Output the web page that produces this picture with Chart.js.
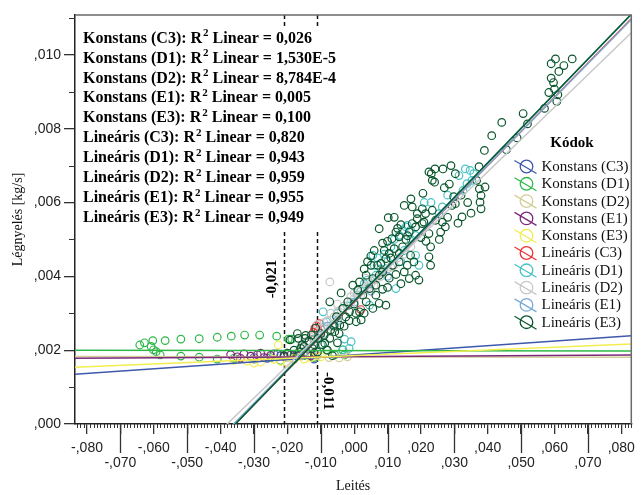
<!DOCTYPE html>
<html><head><meta charset="utf-8">
<script src="https://cdn.jsdelivr.net/npm/chart.js@4.4.0/dist/chart.umd.min.js"></script>
<style>html,body{margin:0;padding:0;background:#fff;}canvas{display:block;}</style>
</head><body>
<canvas id="c" width="641" height="495"></canvas>
<script>
// ---- categories / colours ----
const groupNames = ['Konstans (C3)','Konstans (D1)','Konstans (D2)','Konstans (E1)','Konstans (E3)',
                    'Lineáris (C3)','Lineáris (D1)','Lineáris (D2)','Lineáris (E1)','Lineáris (E3)'];
const groupColors = ['#3E58AC','#2EB848','#D3CE97','#7C287D','#F2EE50',
                     '#EF3338','#48C2C5','#C8C8C8','#7AAAD5','#0A562C'];
const r2Values = ['0,026','1,530E-5','8,784E-4','0,005','0,100','0,820','0,943','0,959','0,955','0,949'];

// ---- axis ranges & ticks ----
const xMin = -0.0836, xMax = 0.0830, yMin = 0, yMax = 0.01108;
const xTickStep = 0.01, yTickStep = 0.002, xMinorStep = 0.001, yMinorStep = 0.001;
const breakpoints = [-0.021, -0.011];
const breakpointLabels = ['-0,021', '-0,011'];

// ---- fit lines: y at xMin and at xMax ----
const fitLeftY  = [0.00135, 0.00200, 0.00183, 0.00178, 0.00154, -0.00443, -0.00448, -0.00399, -0.00437, -0.00450];
const fitRightY = [0.00239, 0.00198, 0.00181, 0.00187, 0.00217,  0.01098,  0.01110,  0.01060,  0.01096,  0.01110];

// ---- observations [Leités, Légnyelés] ----
const konstansC3 = [[-0.0300,0.00180],[-0.0260,0.00178],[-0.0220,0.00185],[-0.0180,0.00186],[-0.0140,0.00190],[-0.0120,0.00176],[-0.0240,0.00190]];
const konstansD1 = [[-0.0642,0.00214],[-0.0628,0.00220],[-0.0603,0.00226],[-0.0608,0.00210],[-0.0601,0.00201],[-0.0593,0.00196],[-0.0581,0.00187],[-0.0566,0.00226],[-0.0519,0.00230],[-0.0519,0.00184],[-0.0464,0.00231],[-0.0464,0.00181],[-0.0410,0.00235],[-0.0368,0.00238],[-0.0328,0.00241],[-0.0283,0.00241],[-0.0232,0.00238],[-0.0197,0.00230],[-0.0187,0.00230],[-0.0083,0.00201],[-0.0058,0.00187],[-0.0034,0.00201],[-0.0029,0.00187],[-0.0360,0.00178],[-0.0300,0.00176],[-0.0250,0.00180],[-0.0180,0.00176],[-0.0150,0.00185],[-0.0120,0.00180],[-0.0410,0.00176],[-0.0220,0.00172]];
const konstansD2 = [[-0.0340,0.00178],[-0.0300,0.00176],[-0.0260,0.00182],[-0.0200,0.00180],[-0.0160,0.00183],[-0.0110,0.00185],[-0.0075,0.00180],[-0.0045,0.00179],[-0.0020,0.00182]];
const konstansE1 = [[-0.0370,0.00188],[-0.0350,0.00182],[-0.0330,0.00190],[-0.0310,0.00184],[-0.0290,0.00188],[-0.0270,0.00180],[-0.0250,0.00186],[-0.0230,0.00190],[-0.0210,0.00183],[-0.0190,0.00187],[-0.0170,0.00185],[-0.0150,0.00190],[-0.0130,0.00184],[-0.0120,0.00192],[-0.0340,0.00178],[-0.0280,0.00192]];
const konstansE3 = [[-0.0360,0.00172],[-0.0320,0.00170],[-0.0280,0.00168],[-0.0240,0.00175],[-0.0220,0.00170],[-0.0227,0.00214],[-0.0180,0.00178],[-0.0150,0.00176],[-0.0130,0.00180],[-0.0100,0.00182],[-0.0300,0.00165],[-0.0200,0.00165]];
const linearisC3 = [[-0.0118,0.00259],[-0.0113,0.00266],[-0.0108,0.00252],[-0.0122,0.00248],[-0.0104,0.00272],[0.0020,0.00310]];
const linearisD1 = [[0.0333,0.00691],[0.0347,0.00687],[0.0358,0.00678],[0.0353,0.00660],[0.0338,0.00651],[0.0314,0.00673],[0.0326,0.00633],[0.0145,0.00525],[0.0159,0.00538],[0.0135,0.00511],[0.0264,0.00588],[0.0254,0.00570],[0.0155,0.00534],[0.0169,0.00525],[0.0184,0.00511],[0.0056,0.00457],[0.0065,0.00403],[0.0125,0.00367],[0.0046,0.00322],[0.0184,0.00457],[0.0194,0.00430],[-0.0034,0.00201],[-0.0009,0.00223],[-0.0029,0.00230],[-0.0093,0.00304],[-0.0083,0.00277],[0.0010,0.00350],[0.0030,0.00380],[0.0080,0.00420],[0.0110,0.00480],[-0.0050,0.00300],[-0.0120,0.00230],[-0.0020,0.00320],[0.0070,0.00450],[0.0100,0.00440],[0.0210,0.00600],[0.0230,0.00600],[-0.0015,0.00205],
 [0.0090,0.00460],[0.0120,0.00500],[0.0060,0.00430],[0.0020,0.00360],[0.0150,0.00470],[0.0170,0.00500],[0.0140,0.00440],[-0.0060,0.00270],[-0.0100,0.00215],[0.0280,0.00620],[0.0040,0.00390]];
const linearisD2 = [[-0.0073,0.00385],[-0.0120,0.00240],[-0.0100,0.00260],[-0.0080,0.00280],[-0.0060,0.00290],[-0.0040,0.00310],[-0.0020,0.00330],[0.0000,0.00340],[0.0020,0.00350],[0.0040,0.00370],[0.0060,0.00390],[0.0080,0.00400],[0.0100,0.00420],[0.0120,0.00430],[-0.0110,0.00270],[-0.0070,0.00300],[-0.0030,0.00320],[0.0010,0.00360],[0.0050,0.00380],[0.0090,0.00410],[0.0130,0.00450],[-0.0140,0.00225],[-0.0160,0.00210],[0.0150,0.00460],[0.0170,0.00480],[0.0035,0.00395],[-0.0010,0.00345],[-0.0050,0.00325],
 [-0.0090,0.00275],[-0.0050,0.00305],[-0.0010,0.00330],[0.0030,0.00365],[0.0070,0.00395],[0.0110,0.00425],[-0.0130,0.00235],[0.0000,0.00355],[0.0060,0.00375]];
const linearisE1 = [[-0.0100,0.00240],[-0.0050,0.00280],[0.0000,0.00330],[0.0050,0.00360],[0.0100,0.00400],[-0.0150,0.00195],[-0.0080,0.00265]];
const linearisE3 = [[0.0590,0.00976],[0.0603,0.00989],[0.0628,0.00971],[0.0653,0.00989],[0.0613,0.00955],[0.0590,0.00937],[0.0597,0.00925],[0.0583,0.00898],[0.0600,0.00907],[0.0610,0.00892],[0.0607,0.00874],[0.0570,0.00855],[0.0506,0.00841],[0.0519,0.00813],[0.0442,0.00817],[0.0412,0.00781],[0.0488,0.00775],[0.0390,0.00741],[0.0456,0.00743],[0.0374,0.00697],
 [0.0242,0.00691],[0.0266,0.00691],[0.0231,0.00678],[0.0241,0.00655],[0.0303,0.00678],[0.0206,0.00625],[0.0150,0.00592],[0.0298,0.00616],[0.0293,0.00592],[0.0303,0.00597],[0.0367,0.00660],[0.0375,0.00637],[0.0392,0.00642],[0.0380,0.00619],[0.0377,0.00601],[0.0380,0.00583],[0.0350,0.00571],[0.0323,0.00561],[0.0311,0.00544],
 [0.0174,0.00588],[0.0189,0.00570],[0.0204,0.00583],[0.0214,0.00570],[0.0234,0.00579],[0.0244,0.00552],[0.0264,0.00547],[0.0273,0.00534],[0.0259,0.00520],[0.0224,0.00516],[0.0184,0.00534],[0.0209,0.00547],
 [0.0224,0.00683],[0.0234,0.00660],[0.0189,0.00556],[0.0174,0.00543],[0.0204,0.00543],[0.0102,0.00559],[0.0075,0.00529],[0.0113,0.00502],[0.0135,0.00507],[0.0145,0.00480],[0.0120,0.00475],[0.0105,0.00462],[0.0135,0.00462],[0.0095,0.00448],[0.0080,0.00435],[0.0115,0.00430],[0.0135,0.00439],[0.0165,0.00394],[0.0184,0.00403],[0.0194,0.00390],[0.0229,0.00480],[0.0224,0.00453],[0.0229,0.00430],[0.0169,0.00457],[0.0179,0.00439],[0.0159,0.00430],[0.0150,0.00412],
 [-0.0039,0.00355],[-0.0073,0.00331],[-0.0004,0.00376],[0.0016,0.00385],[0.0011,0.00363],[0.0026,0.00349],[0.0036,0.00331],[0.0056,0.00313],[0.0016,0.00304],[0.0021,0.00282],[0.0006,0.00277],[-0.0014,0.00304],[-0.0019,0.00331],[-0.0034,0.00313],[-0.0053,0.00291],[-0.0043,0.00268],[-0.0058,0.00250],[-0.0073,0.00232],[-0.0088,0.00219],[-0.0108,0.00232],[-0.0128,0.00241],[-0.0147,0.00232],[-0.0167,0.00232],[-0.0192,0.00228],[0.0046,0.00367],[0.0065,0.00376],[0.0075,0.00403],[0.0056,0.00394],[0.0036,0.00403],[0.0051,0.00430],[0.0070,0.00430],[0.0085,0.00412],[0.0065,0.00349],[0.0075,0.00327],[0.0095,0.00322],
 [0.0090,0.00470],[0.0100,0.00495],[0.0125,0.00520],[0.0140,0.00540],[0.0160,0.00510],[0.0110,0.00450],[0.0125,0.00405],[0.0140,0.00380],[0.0105,0.00395],[0.0085,0.00365],[0.0100,0.00370],[0.0130,0.00530],[0.0155,0.00500],[0.0165,0.00520],
 [-0.0180,0.00200],[-0.0165,0.00195],[-0.0150,0.00210],[-0.0140,0.00190],[-0.0125,0.00205],[-0.0110,0.00195],[-0.0095,0.00215],[-0.0080,0.00200],[-0.0065,0.00185],[-0.0050,0.00220],[-0.0170,0.00245],[-0.0155,0.00215],[-0.0210,0.00185],[-0.0200,0.00192],[-0.0115,0.00260],[-0.0100,0.00245],[-0.0060,0.00265],[-0.0025,0.00290],[0.0000,0.00325],[0.0030,0.00300],
 [0.0050,0.00455],[0.0060,0.00470],[0.0085,0.00490],[0.0030,0.00420],[0.0040,0.00440],[0.0120,0.00560],[0.0170,0.00610],[0.0200,0.00505],[0.0215,0.00495],[0.0255,0.00500],[0.0280,0.00560],[0.0285,0.00650],[0.0270,0.00640],[0.0320,0.00620],[0.0340,0.00600],[0.0290,0.00700],[-0.0135,0.00225],[-0.0120,0.00215],[-0.0090,0.00240],[-0.0070,0.00255],[-0.0045,0.00245],[-0.0030,0.00265],[-0.0015,0.00280],[0.0005,0.00300],[-0.0160,0.00205],[-0.0145,0.00240]];

const groupData = [konstansC3, konstansD1, konstansD2, konstansE1, konstansE3,
                   linearisC3, linearisD1, linearisD2, linearisE1, linearisE3];

// ---- helpers ----
function fmtTick(v) {
  const n = Math.round(Math.abs(v) * 1000);
  return (v < -1e-9 ? '-' : '') + ',' + String(n).padStart(3, '0');
}
const SERIF = "'Liberation Serif', 'DejaVu Serif', serif";
const SANS = "'Liberation Sans', Arial, sans-serif";

const datasets = [];
groupData.forEach((pts, i) => {
  datasets.push({
    type: 'scatter', label: groupNames[i],
    data: pts.map(p => ({x: p[0], y: p[1]})),
    borderColor: groupColors[i], backgroundColor: 'rgba(0,0,0,0)',
    pointRadius: 3.8, pointBorderWidth: 1.2, pointStyle: 'circle',
    order: 30 - i
  });
});
groupNames.forEach((name, i) => {
  datasets.push({
    type: 'line', label: name + ' fit',
    data: [{x: xMin, y: fitLeftY[i]}, {x: xMax, y: fitRightY[i]}],
    borderColor: groupColors[i], borderWidth: 1.5, pointRadius: 0, fill: false,
    showLine: true, order: 12 - i
  });
});

const extras = {
  id: 'extras',
  beforeDatasetsDraw(chart) {
    const {ctx, chartArea: a, scales: {x}} = chart;
    ctx.save();
    ctx.strokeStyle = '#111'; ctx.lineWidth = 1.5; ctx.setLineDash([4, 3]);
    breakpoints.forEach(b => {
      const px = Math.round(x.getPixelForValue(b)) + 0.5;
      ctx.beginPath(); ctx.moveTo(px, a.top); ctx.lineTo(px, a.bottom); ctx.stroke();
    });
    ctx.restore();
  },
  afterDatasetsDraw(chart) {
    const {ctx, chartArea: a, scales: {x, y}} = chart;
    ctx.save();
    // R² annotation box
    ctx.fillStyle = '#fff';
    ctx.fillRect(a.left + 3, 28, 275, 201);
    const fBig = 'bold 16px ' + SERIF, fSup = 'bold 11px ' + SERIF;
    ctx.fillStyle = '#000'; ctx.textBaseline = 'middle'; ctx.textAlign = 'left';
    groupNames.forEach((n, i) => {
      const ty = 38.5 + i * 19.95;
      let tx = a.left + 8;
      ctx.font = fBig;
      const s1 = n + ': R';
      ctx.fillText(s1, tx, ty); tx += ctx.measureText(s1).width + 1;
      ctx.font = fSup; ctx.fillText('2', tx, ty - 5); tx += ctx.measureText('2').width;
      ctx.font = fBig; ctx.fillText(' Linear = ' + r2Values[i], tx, ty);
    });
    // breakpoint labels
    ctx.font = 'bold 15px ' + SERIF; ctx.textAlign = 'center';
    let bx = x.getPixelForValue(breakpoints[0]) - 12;
    ctx.save(); ctx.translate(bx, 279); ctx.rotate(-Math.PI / 2); ctx.fillText(breakpointLabels[0], 0, 0); ctx.restore();
    bx = x.getPixelForValue(breakpoints[1]) + 10;
    ctx.save(); ctx.translate(bx, 391); ctx.rotate(Math.PI / 2); ctx.fillText(breakpointLabels[1], 0, 0); ctx.restore();
    // legend
    ctx.font = 'bold 15px ' + SERIF; ctx.textAlign = 'center'; ctx.fillStyle = '#000';
    ctx.fillText('Kódok', 572, 143);
    ctx.textAlign = 'left'; ctx.font = '15px ' + SERIF;
    groupNames.forEach((n, i) => {
      const cy = 166.5 + i * 17.3, cx = 526.5;
      ctx.strokeStyle = groupColors[i]; ctx.lineWidth = 1.3;
      ctx.beginPath(); ctx.arc(cx, cy, 6.3, 0, Math.PI * 2); ctx.stroke();
      ctx.beginPath(); ctx.moveTo(cx - 12, cy - 6); ctx.lineTo(cx + 10, cy + 7); ctx.stroke();
      ctx.fillStyle = '#111'; ctx.fillText(n, 541.5, cy + 0.5);
    });
    ctx.restore();
  },
  afterDraw(chart) {
    const {ctx, chartArea: a, scales: {x, y}} = chart;
    ctx.save();
    ctx.strokeStyle = '#333'; ctx.lineWidth = 1;
    // x minor ticks and long odd ticks
    const kMin = Math.ceil(xMin / xMinorStep), kMax = Math.floor(xMax / xMinorStep);
    for (let k = kMin; k <= kMax; k++) {
      const px = Math.round(x.getPixelForValue(k * xMinorStep)) + 0.5;
      let len = 4;
      if (k % 10 === 0) { len = (Math.abs(k / 10) % 2 === 1) ? 29 : 0; ctx.lineWidth = 1.3; } else ctx.lineWidth = 1;
      if (!len) continue;
      ctx.beginPath(); ctx.moveTo(px, a.bottom); ctx.lineTo(px, a.bottom + len); ctx.stroke();
    }
    // y minor ticks
    ctx.lineWidth = 1;
    for (let k = 1; k * yMinorStep <= yMax + 1e-9; k += 2) {
      const py = Math.round(y.getPixelForValue(k * yMinorStep)) + 0.5;
      ctx.beginPath(); ctx.moveTo(a.left, py); ctx.lineTo(a.left - 6, py); ctx.stroke();
    }
    // plot frame (top / right)
    ctx.strokeStyle = '#6a6a6a'; ctx.lineWidth = 1.5;
    ctx.beginPath(); ctx.moveTo(a.left, a.top); ctx.lineTo(a.right, a.top); ctx.lineTo(a.right, a.bottom); ctx.stroke();
    ctx.restore();
  }
};

new Chart(document.getElementById('c'), {
  type: 'scatter',
  data: {datasets},
  options: {
    responsive: false, animation: false, devicePixelRatio: 1,
    layout: {padding: {top: 15, right: 5, left: 0, bottom: 0}},
    plugins: {legend: {display: false}, tooltip: {enabled: false}},
    scales: {
      x: {
        type: 'linear', min: xMin, max: xMax,
        afterFit: s => { s.height = 71; },
        ticks: {
          stepSize: xTickStep, includeBounds: false, autoSkip: false, maxRotation: 0, minRotation: 0,
          padding: 6, color: '#222', font: {family: SANS, size: 14, lineHeight: 1.1},
          callback: v => { const k = Math.round(v * 100); const s = fmtTick(v); return (Math.abs(k) % 2 === 1) ? ['', s] : s; }
        },
        grid: {drawOnChartArea: false, tickLength: 10, color: '#333', lineWidth: 1.3},
        border: {display: true, color: '#222', width: 1.5},
        title: {display: true, text: 'Leités', color: '#111', font: {family: SERIF, size: 14}, padding: {top: 0, bottom: 0}}
      },
      y: {
        type: 'linear', min: yMin, max: yMax,
        afterFit: s => { s.width = 75; },
        ticks: {
          stepSize: yTickStep, includeBounds: false, padding: 3, color: '#222',
          font: {family: SANS, size: 14}, callback: v => fmtTick(v)
        },
        grid: {drawOnChartArea: false, tickLength: 11, color: '#333', lineWidth: 1.3},
        border: {display: true, color: '#222', width: 1.5},
        title: {display: true, text: 'Légnyelés [kg/s]', color: '#111', font: {family: SERIF, size: 14}, padding: {top: 10, bottom: 0}}
      }
    }
  },
  plugins: [extras]
});
</script>
</body></html>
